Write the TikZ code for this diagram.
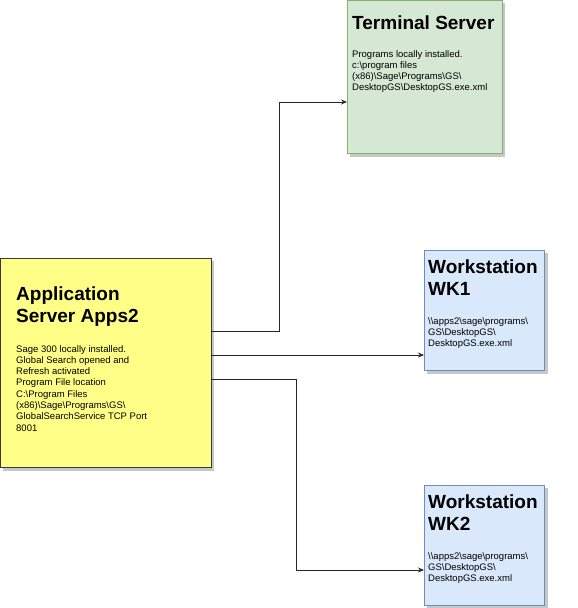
\documentclass[tikz,border=0pt]{standalone}
\usepackage{fontspec}
\setmainfont{Liberation Sans}
\usetikzlibrary{arrows.meta}
\definecolor{appfill}{HTML}{FFFF88}
\definecolor{appline}{HTML}{36393D}
\definecolor{tsfill}{HTML}{D5E8D4}
\definecolor{tsline}{HTML}{82B366}
\definecolor{wkfill}{HTML}{DAE8FC}
\definecolor{wkline}{HTML}{6C8EBF}
\tikzset{
  box/.style={draw, line width=0.8pt, inner sep=0pt, anchor=north west},
  shadowbox/.style={fill=black, fill opacity=0.25, draw=none, inner sep=0pt, anchor=north west},
  titletext/.style={anchor=north west, inner sep=0pt, align=left, font=\fontsize{19}{22}\selectfont\bfseries},
  bodytext/.style={anchor=north west, inner sep=0pt, align=left, font=\fontsize{9.5}{11.3}\selectfont},
  conn/.style={draw=black!85, line width=0.8pt, -{Stealth[length=6pt,width=5pt]}}
}
\begin{document}
\begin{tikzpicture}[x=1pt,y=-1pt]
\useasboundingbox (0,0) rectangle (578,608);
% shadows
\fill[black, opacity=0.22] (3,261) rectangle (214,471);
\fill[black, opacity=0.22] (350,3) rectangle (505,157);
\fill[black, opacity=0.22] (427,253) rectangle (548,374);
\fill[black, opacity=0.22] (427,488) rectangle (548,608);
% boxes
\node[box, fill=appfill, draw=appline, minimum width=211pt, minimum height=209pt] (app) at (0,258) {};
\node[box, fill=tsfill, draw=tsline, minimum width=155pt, minimum height=153pt] (ts) at (347,0) {};
\node[box, fill=wkfill, draw=wkline, minimum width=120pt, minimum height=120pt] (wk1) at (424,250) {};
\node[box, fill=wkfill, draw=wkline, minimum width=120pt, minimum height=120pt] (wk2) at (424,485) {};
% texts
\node[titletext] (apptitle) at (16,287) {Application\\Server Apps2};
\node[bodytext] (appbody) at (16,345) {Sage 300 locally installed.\\Global Search opened and\\Refresh activated\\Program File location\\C:\textbackslash Program Files\\(x86)\textbackslash Sage\textbackslash Programs\textbackslash GS\textbackslash\\GlobalSearchService TCP Port\\8001};
\node[titletext] (tstitle) at (352,16) {Terminal Server};
\node[bodytext] (tsbody) at (352,50) {Programs locally installed.\\c:\textbackslash program files\\(x86)\textbackslash Sage\textbackslash Programs\textbackslash GS\textbackslash\\DesktopGS\textbackslash DesktopGS.exe.xml};
\node[titletext] (wk1title) at (428,260) {Workstation\\WK1};
\node[bodytext] (wk1body) at (428,317) {\textbackslash\textbackslash apps2\textbackslash sage\textbackslash programs\textbackslash\\GS\textbackslash DesktopGS\textbackslash\\DesktopGS.exe.xml};
\node[titletext] (wk2title) at (428,495) {Workstation\\WK2};
\node[bodytext] (wk2body) at (428,552) {\textbackslash\textbackslash apps2\textbackslash sage\textbackslash programs\textbackslash\\GS\textbackslash DesktopGS\textbackslash\\DesktopGS.exe.xml};
% connectors
\coordinate (a1) at (211,331);
\coordinate (a2) at (211,355);
\coordinate (a3) at (211,379);
\draw[conn] (a1) -- (279,331) |- (ts.west |- 0,102);
\draw[conn] (a2) -- (wk1.west |- 0,355);
\draw[conn] (a3) -- (296,379) |- (wk2.west |- 0,570);
\end{tikzpicture}
\end{document}
